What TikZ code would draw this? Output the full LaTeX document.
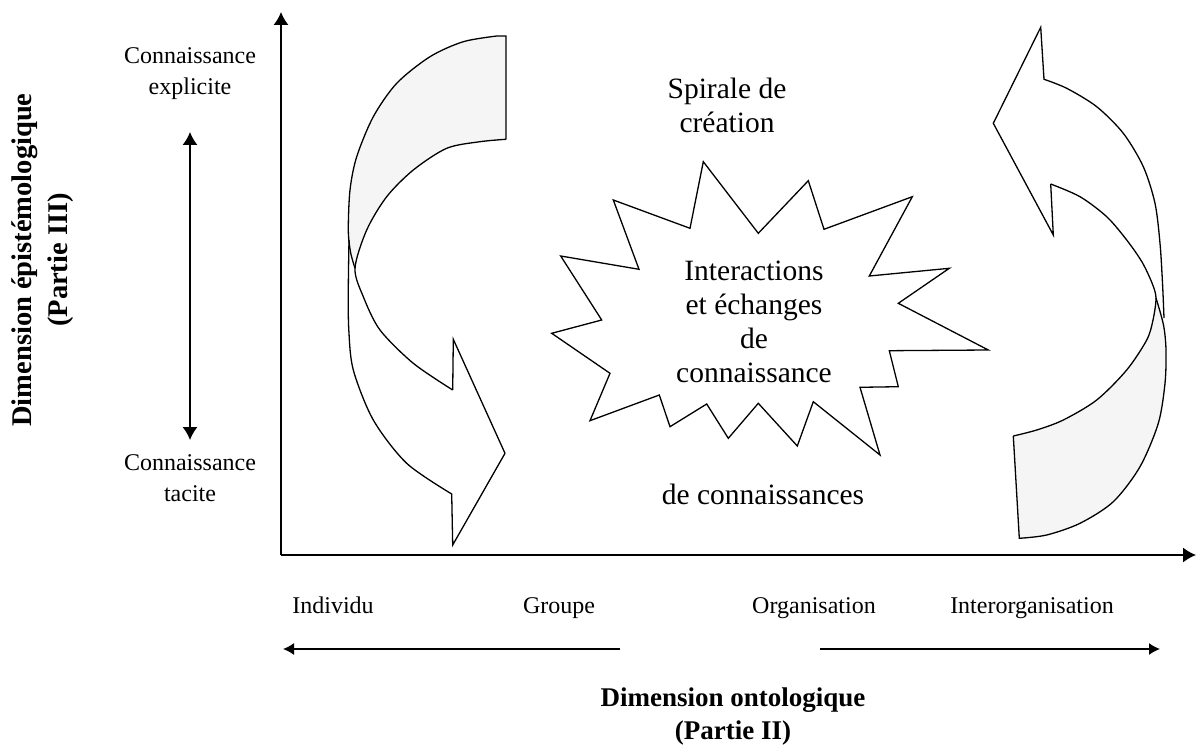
\documentclass[tikz,border=0pt]{standalone}
\usepackage{fontspec}
\setmainfont{Liberation Serif}
\usetikzlibrary{arrows.meta}
\begin{document}
\begin{tikzpicture}[x=1pt,y=-1pt,
  axisline/.style={line width=1.4pt},
  shapeline/.style={line width=1.3pt, line join=miter},
  backfill/.style={fill=black!4},
  lbl/.style={font=\fontsize{24}{31}\selectfont, align=center, inner sep=0pt},
  big/.style={font=\fontsize{29.5}{34}\selectfont, align=center, inner sep=0pt},
  ttl/.style={font=\bfseries\fontsize{27}{33}\selectfont, align=center, inner sep=0pt},
  bigtip/.style={-{Latex[length=13pt,width=15pt]}},
  dbltip/.style={{Latex[length=13pt,width=15pt]}-{Latex[length=13pt,width=15pt]}},
  smalltip/.style={-{Latex[length=11pt,width=12pt]}}
]
\useasboundingbox (0,0) rectangle (1197,746);

% axes
\coordinate (O) at (281,555);
\coordinate (Ytop) at (281,12);
\coordinate (Xend) at (1196,555);
\draw[axisline,bigtip] (O) -- (Ytop);
\draw[axisline,bigtip] (O) -- (Xend);

% epistemological double arrow
\coordinate (dtop) at (190,132);
\coordinate (dbot) at (190,440);
\draw[axisline,dbltip] (dtop) -- (dbot);

\node[lbl] (expl) at (190,74) {Connaissance\\explicite};
\node[lbl] (tac) at (190,478) {Connaissance\\tacite};
\node[ttl,rotate=90,font=\bfseries\fontsize{28.5}{36}\selectfont] (epi) at (43,260) {Dimension épistémologique\\(Partie III)};

% ontological labels and arrows
\node[lbl,anchor=base] (ind) at (333,613) {Individu};
\node[lbl,anchor=base] (grp) at (559,613) {Groupe};
\node[lbl,anchor=base] (org) at (814,613) {Organisation};
\node[lbl,anchor=base] (inter) at (1032,613) {Interorganisation};
\coordinate (la1) at (620,649);
\coordinate (la2) at (283,649);
\coordinate (ra1) at (820,649);
\coordinate (ra2) at (1160,649);
\draw[axisline,smalltip] (la1) -- (la2);
\draw[axisline,smalltip] (ra1) -- (ra2);
\node[ttl] (onto) at (733,717) {Dimension ontologique\\(Partie II)};

% centre texts
\node[big] (spir) at (727,105) {Spirale de\\création};
\node[big] (deco) at (763,494) {de connaissances};

% starburst
\draw[shapeline] (703.3,161.7) -- (758.3,233.3) -- (808.3,180.7) -- (824,229.3)
  -- (912.3,196.7) -- (869.3,276) -- (949.3,268.3) -- (898.3,303.3)
  -- (988.3,350) -- (889.3,350.7) -- (898.3,386.7) -- (860,387.3)
  -- (880,455) -- (813.3,401.7) -- (797.3,446) -- (758.3,403.3)
  -- (728.3,438.3) -- (706.7,404) -- (670,426.7) -- (659.3,395)
  -- (590,420.7) -- (610,373.3) -- (551.7,333.3) -- (601.7,320)
  -- (560.7,256) -- (639,269.3) -- (613.3,200) -- (690,228.3) -- cycle;
\node[big] (inter2) at (754,322) {Interactions\\et échanges\\de\\connaissance};

% left curved arrow
\fill[backfill] (506,139.3) -- (506,36) -- (497,36)
  -- plot[smooth] coordinates {(497,36) (463.3,41.7) (430,56.7) (396.7,83.3) (373.3,116.7) (356.7,156.7) (350,190) (348.3,230) (350.5,252) (355,268.3)}
  -- plot[smooth] coordinates {(355,268.3) (366.7,230) (386.7,196.7) (413.3,170) (446.7,148.3) (480,141.7) (506,139.3)} -- cycle;
\draw[shapeline] (506,139.3) -- (506,36) -- (497,36)
  -- plot[smooth] coordinates {(497,36) (463.3,41.7) (430,56.7) (396.7,83.3) (373.3,116.7) (356.7,156.7) (350,190) (348.3,230) (350.5,252) (355,268.3)};
\draw[shapeline] plot[smooth] coordinates {(506,139.3) (480,141.7) (446.7,148.3) (413.3,170) (386.7,196.7) (366.7,230) (355,268.3) (363.3,296.7) (380,330) (413.3,363.3) (452.7,390)};
\draw[shapeline] plot[smooth] coordinates {(349,240) (348.3,290) (348.8,330) (353.3,370) (373.3,420) (406.7,463.3) (451.7,494)}
  -- (452.7,545) -- (505,453.3) -- (453.3,339.3) -- (452.7,390);

% right curved arrow
\fill[backfill] (1013.3,436) -- (1019.3,538.3)
  -- plot[smooth] coordinates {(1019.3,538.3) (1046.7,535) (1080,523.3) (1113.3,501.7) (1140,466.7) (1158.3,423.3) (1165,383.3) (1166,350) (1163.5,325) (1156,298)}
  -- plot[smooth] coordinates {(1156,298) (1153,320) (1146.7,340) (1126.7,370) (1096.7,400) (1063.3,420) (1036.7,430) (1013.3,436)} -- cycle;
\draw[shapeline] (1013.3,436) -- (1019.3,538.3)
  -- plot[smooth] coordinates {(1019.3,538.3) (1046.7,535) (1080,523.3) (1113.3,501.7) (1140,466.7) (1158.3,423.3) (1165,383.3) (1166,350) (1163.5,325) (1156,298)};
\draw[shapeline] plot[smooth] coordinates {(1050.7,184) (1080,196.7) (1106.7,216.7) (1126.7,240) (1142,262) (1152,283) (1156,298) (1153,320) (1146.7,340) (1126.7,370) (1096.7,400) (1063.3,420) (1036.7,430) (1013.3,436)};
\draw[shapeline] plot[smooth] coordinates {(1164,318) (1162.5,283) (1160,243.3) (1155,203.3) (1143.3,166.7) (1123.3,133.3) (1096.7,106.7) (1066.7,88.3) (1044,79.3)}
  -- (1040.7,27.3) -- (993.3,123.3) -- (1053.3,235) -- (1050.7,184);
\end{tikzpicture}
\end{document}
